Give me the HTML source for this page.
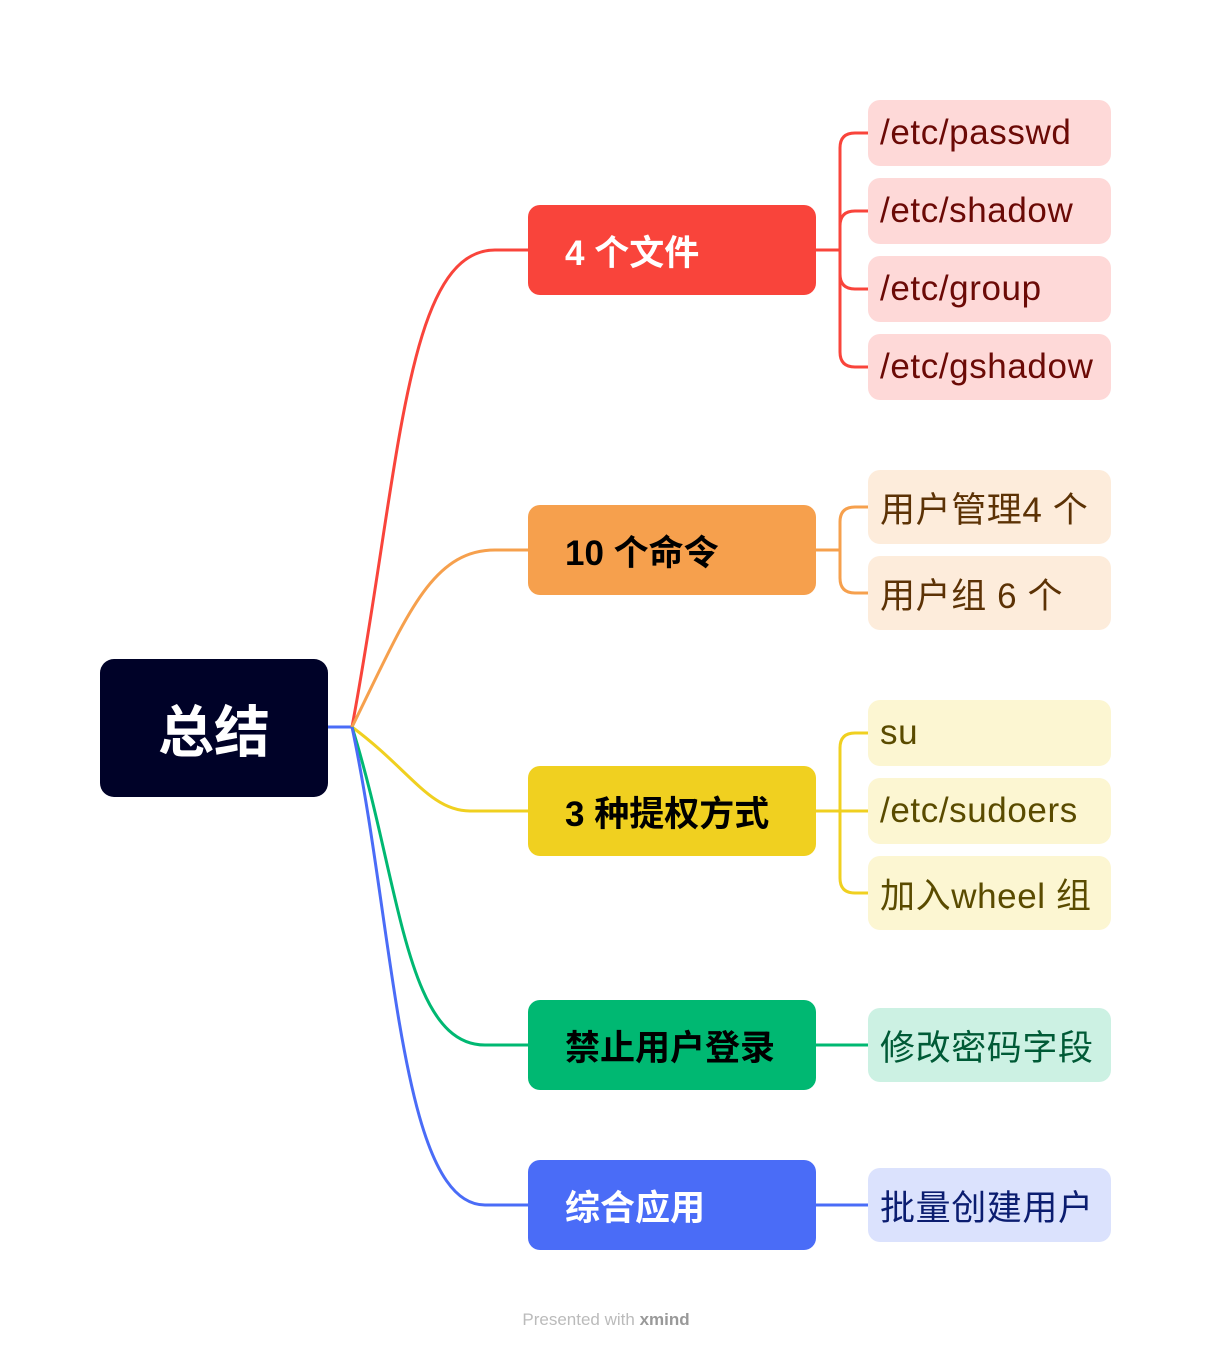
<!DOCTYPE html>
<html><head><meta charset="utf-8"><style>
body{margin:0;width:1212px;height:1352px;background:#fff;position:relative;font-family:"Liberation Sans","Noto Sans CJK SC",sans-serif;overflow:hidden}
.n{position:absolute;box-sizing:border-box;display:flex;align-items:center;border-radius:12px}
.m{left:528px;width:288px;height:90px;padding-left:37px;font-size:35px;font-weight:bold}
.l{left:868px;width:243px;padding-left:12px;font-size:35px;letter-spacing:0.6px;border-radius:12px;white-space:nowrap}
svg{position:absolute;left:0;top:0}
</style></head><body>
<svg width="1212" height="1352" fill="none" stroke-width="3">
<path d="M328 727 L352 727" stroke="#4a6cf7"/>
<path d="M352 727 C400 470 405 250 495 250 L528 250" stroke="#f9443b"/>
<path d="M352 727 C405 620 430 550 495 550 L528 550" stroke="#f6a04d"/>
<path d="M352 727 C410 770 430 811 470 811 L528 811" stroke="#f0d020"/>
<path d="M352 727 C400 880 405 1045 485 1045 L528 1045" stroke="#00b872"/>
<path d="M352 727 C395 930 400 1205 485 1205 L528 1205" stroke="#4a6cf7"/>
<g stroke="#f9443b"><path d="M816 250 H840"/><path d="M868 133 H855 Q840 133 840 148 V352 Q840 367 855 367 H868"/><path d="M868 211 H855 Q840 211 840 226"/><path d="M868 289 H855 Q840 289 840 274"/></g>
<g stroke="#f6a04d"><path d="M816 550 H840"/><path d="M868 507 H855 Q840 507 840 522 V578 Q840 593 855 593 H868"/></g>
<g stroke="#f0d020"><path d="M816 811 H868"/><path d="M868 733 H855 Q840 733 840 748 V878 Q840 893 855 893 H868"/></g>
<path d="M816 1045 H868" stroke="#00b872"/>
<path d="M816 1205 H868" stroke="#4a6cf7"/>
</svg>
<div class="n" style="left:100px;top:659px;width:228px;height:138px;background:#000228;color:#fff;font-size:56px;font-weight:bold;justify-content:center;border-radius:14px">总结</div>
<div class="n m" style="top:205px;background:#f9443b;color:#fff">4 个文件</div>
<div class="n m" style="top:505px;background:#f6a04d;color:#000">10 个命令</div>
<div class="n m" style="top:766px;background:#f0d020;color:#000">3 种提权方式</div>
<div class="n m" style="top:1000px;background:#00b872;color:#000">禁止用户登录</div>
<div class="n m" style="top:1160px;background:#4a6cf7;color:#fff">综合应用</div>
<div class="n l" style="top:100px;height:66px;background:#fed9d8;color:#6b0a06">/etc/passwd</div>
<div class="n l" style="top:178px;height:66px;background:#fed9d8;color:#6b0a06">/etc/shadow</div>
<div class="n l" style="top:256px;height:66px;background:#fed9d8;color:#6b0a06">/etc/group</div>
<div class="n l" style="top:334px;height:66px;background:#fed9d8;color:#6b0a06">/etc/gshadow</div>
<div class="n l" style="top:470px;height:74px;background:#fdecdb;color:#5c3205">用户管理4 个</div>
<div class="n l" style="top:556px;height:74px;background:#fdecdb;color:#5c3205">用户组 6 个</div>
<div class="n l" style="top:700px;height:66px;background:#fcf6d2;color:#5a4b00">su</div>
<div class="n l" style="top:778px;height:66px;background:#fcf6d2;color:#5a4b00">/etc/sudoers</div>
<div class="n l" style="top:856px;height:74px;background:#fcf6d2;color:#5a4b00">加入wheel 组</div>
<div class="n l" style="top:1008px;height:74px;background:#ccf1e3;color:#005a36">修改密码字段</div>
<div class="n l" style="top:1168px;height:74px;background:#dbe2fd;color:#0b1d70">批量创建用户</div>
<div style="position:absolute;left:0;width:1212px;top:1310px;text-align:center;font-size:17px;color:#bbb">Presented with <b style="color:#999">xmind</b></div>
</body></html>
